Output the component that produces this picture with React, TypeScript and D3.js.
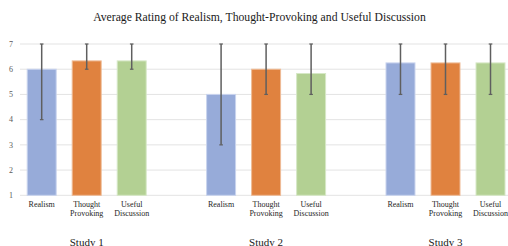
import { useEffect, useRef } from 'react';
import * as d3 from 'd3';

const studies = ['Study 1', 'Study 2', 'Study 3'];
const metrics = ['Realism', 'Thought Provoking', 'Useful Discussion'];
const metricLabels = [['Realism'], ['Thought', 'Provoking'], ['Useful', 'Discussion']];
const colors = ['#97abd9', '#e0823f', '#b3d093'];
const outlines = ['#c9d4ee', '#eebb96', '#d6e8c6'];

// mean rating per study, one array per metric
const realism = [6, 5, 6.25];
const thoughtProvoking = [6.33, 6, 6.25];
const usefulDiscussion = [6.33, 5.83, 6.25];

// error bar ends (low / high) per study
const realismLow = [4, 3, 5];
const realismHigh = [7, 7, 7];
const thoughtLow = [6, 5, 5];
const thoughtHigh = [7, 7, 7];
const usefulLow = [6, 5, 5];
const usefulHigh = [7, 7, 7];

const yTicks = [1, 2, 3, 4, 5, 6, 7];

export default function App() {
  const svgRef = useRef<SVGSVGElement>(null);
  const width = 508;
  const height = 246;

  useEffect(() => {
    if (!svgRef.current) return;
    const svg = d3.select(svgRef.current);
    svg.selectAll('*').remove();

    const means = [realism, thoughtProvoking, usefulDiscussion];
    const lows = [realismLow, thoughtLow, usefulLow];
    const highs = [realismHigh, thoughtHigh, usefulHigh];

    const y = d3.scaleLinear().domain([1, 7]).range([195.3, 44]);
    const x0 = d3.scaleBand<string>().domain(studies).range([-3, 535.2]);
    const x1 = d3.scaleBand<string>()
      .domain(metrics)
      .range([30.2, 149.2])
      .paddingInner(0.356)
      .paddingOuter(0);

    // title
    svg.append('text')
      .attr('x', 259.5)
      .attr('y', 21)
      .attr('text-anchor', 'middle')
      .attr('font-family', '"Liberation Serif", "Times New Roman", serif')
      .attr('font-size', 11.7)
      .attr('fill', '#1a1a1a')
      .text('Average Rating of Realism, Thought-Provoking and Useful Discussion');

    // gridlines
    svg.append('g')
      .selectAll('line')
      .data(yTicks)
      .join('line')
      .attr('x1', 20)
      .attr('x2', width)
      .attr('y1', d => y(d))
      .attr('y2', d => y(d))
      .attr('stroke', '#e3e3e3')
      .attr('stroke-width', 1);

    // y tick labels
    svg.append('g')
      .selectAll('text')
      .data(yTicks)
      .join('text')
      .attr('x', 13)
      .attr('y', d => y(d))
      .attr('dy', '0.35em')
      .attr('text-anchor', 'end')
      .attr('font-family', '"Liberation Serif", "Times New Roman", serif')
      .attr('font-size', 8)
      .attr('fill', '#595959')
      .text(d => d);

    studies.forEach((study, si) => {
      const g = svg.append('g').attr('transform', `translate(${x0(study)},0)`);

      metrics.forEach((m, mi) => {
        const bx = x1(m)!;
        const bw = x1.bandwidth();
        const v = means[mi][si];
        g.append('rect')
          .attr('x', bx)
          .attr('y', y(v))
          .attr('width', bw)
          .attr('height', y(1) - y(v))
          .attr('fill', colors[mi])
          .attr('stroke', outlines[mi])
          .attr('stroke-width', 1);

        // error bar
        const cx = bx + bw / 2;
        const lo = y(lows[mi][si]);
        const hi = y(highs[mi][si]);
        g.append('line')
          .attr('x1', cx).attr('x2', cx)
          .attr('y1', lo).attr('y2', hi)
          .attr('stroke', '#5f5f5f')
          .attr('stroke-width', 1.5);
        [lo, hi].forEach(cy => {
          g.append('line')
            .attr('x1', cx - 1.8).attr('x2', cx + 1.8)
            .attr('y1', cy).attr('y2', cy)
            .attr('stroke', '#5f5f5f')
            .attr('stroke-width', 1.2);
        });

        // category label
        const t = g.append('text')
          .attr('x', cx)
          .attr('y', 207)
          .attr('text-anchor', 'middle')
          .attr('font-family', '"Liberation Serif", "Times New Roman", serif')
          .attr('font-size', 8)
          .attr('fill', '#262626');
        metricLabels[mi].forEach((line, li) => {
          t.append('tspan')
            .attr('x', cx)
            .attr('dy', li === 0 ? 0 : 9)
            .text(line);
        });
      });

      // study label
      g.append('text')
        .attr('x', x0.bandwidth() / 2)
        .attr('y', 245.5)
        .attr('text-anchor', 'middle')
        .attr('font-family', '"Liberation Serif", "Times New Roman", serif')
        .attr('font-size', 11)
        .attr('fill', '#1a1a1a')
        .text(study);
    });
  }, []);

  return (
    <svg
      ref={svgRef}
      width={width}
      height={height}
      viewBox={`0 0 ${width} ${height}`}
      style={{ position: 'absolute', left: 0, top: 0, background: '#fff' }}
    />
  );
}
